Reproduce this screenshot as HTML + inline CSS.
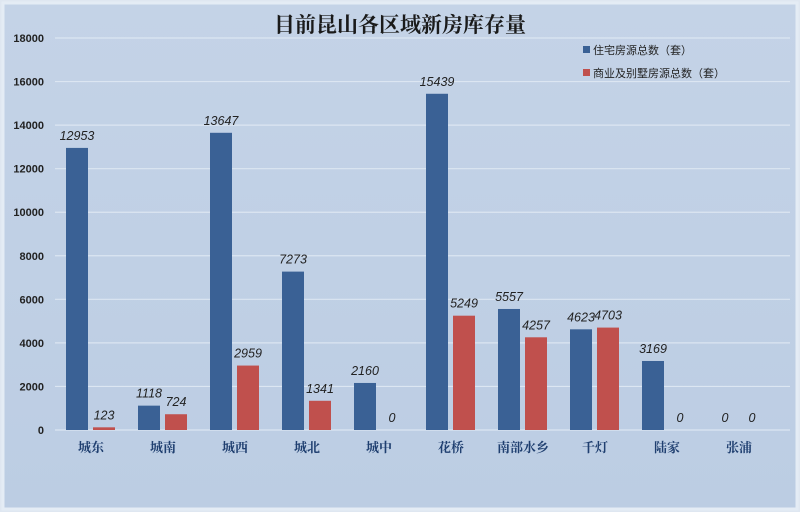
<!DOCTYPE html>
<html><head><meta charset="utf-8"><style>
body{margin:0;background:#dfe7f1;}
svg{display:block;font-family:"Liberation Sans","Noto Sans CJK SC",sans-serif;}
</style></head><body>
<svg id="c" width="800" height="512">
<defs><linearGradient id="bg" x1="0" y1="0" x2="0" y2="1"><stop offset="0" stop-color="#c4d3e7"/><stop offset="1" stop-color="#bccde3"/></linearGradient></defs>
<rect x="3" y="3" width="794" height="506" fill="url(#bg)" stroke="#e4ecf5" stroke-width="3"/>
<text x="400" y="32" text-anchor="middle" font-family="'Noto Serif CJK SC',serif" font-weight="bold" font-size="21" fill="#1a1a1a">目前昆山各区域新房库存量</text>
<g id="grid"></g><g id="bars"></g>
<g>
<rect x="583" y="46" width="7" height="7" fill="#3a6195"/>
<text x="593" y="54" font-size="11" fill="#222">住宅房源总数（套）</text>
<rect x="583" y="69" width="7" height="7" fill="#c0504d"/>
<text x="593" y="77" font-size="11" fill="#222">商业及别墅房源总数（套）</text>
</g>
</svg>
<script>
const categories=["城东","城南","城西","城北","城中","花桥","南部水乡","千灯","陆家","张浦"];
const residential=[12953,1118,13647,7273,2160,15439,5557,4623,3169,0];
const commercial=[123,724,2959,1341,0,5249,4257,4703,0,0];
const yTicks=[0,2000,4000,6000,8000,10000,12000,14000,16000,18000];
const NS="http://www.w3.org/2000/svg";
const x0=55,slot=72,yBase=430,yTop=38,yMax=18000;
const y=v=>yBase-(v/yMax)*(yBase-yTop);
const cx=i=>x0+slot*i+slot/2;
function mk(t,a,p,txt){const e=document.createElementNS(NS,t);for(const k in a)e.setAttribute(k,a[k]);if(txt!==undefined)e.textContent=txt;p.appendChild(e);return e;}
const g=document.getElementById('grid'),b=document.getElementById('bars');
yTicks.forEach(v=>{
 const l=mk('line',{x1:55,x2:790,y1:y(v),y2:y(v),stroke:'#dce6f2','stroke-width':1.2},g);
 
 
 const t=mk('text',{x:44,y:y(v)+4,'text-anchor':'end','font-size':11,'font-weight':'bold',fill:'#222'},g,String(v));
 
 
});
categories.forEach((c,i)=>{
 const c0=cx(i);
 const series=[[residential[i],c0-25,'#3a6195','residential'],[commercial[i],c0+2,'#c0504d','commercial']];
 series.forEach(([v,x,col,n])=>{
  const r=mk('rect',{x:x,y:y(v),width:22,height:yBase-y(v),fill:col},b);
  
  
  const t=mk('text',{x:x+11,y:y(v)-8,'text-anchor':'middle','font-size':12.5,'font-style':'italic',fill:'#222'},b,String(v));
  
  
 });
 const t=mk('text',{x:c0,y:452,'text-anchor':'middle','font-size':13,'font-weight':'bold','font-family':"'Noto Serif CJK SC',serif",fill:'#1f3f70'},b,c);
 
 
});
</script>
</body></html>
